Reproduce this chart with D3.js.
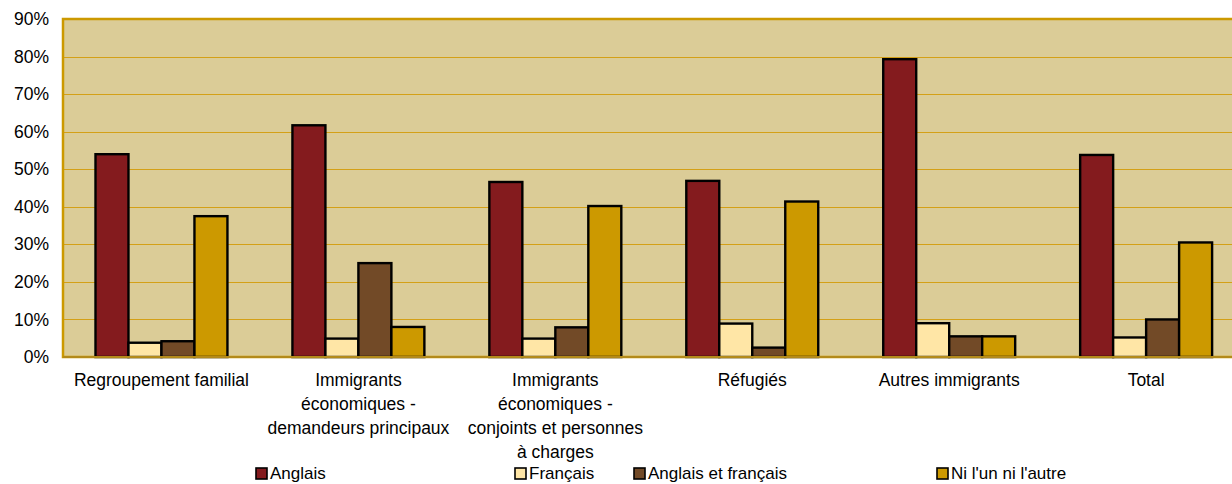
<!DOCTYPE html>
<html>
<head>
<meta charset="utf-8">
<script src="https://cdn.jsdelivr.net/npm/d3@7"></script>
<style>
  html, body { margin: 0; padding: 0; background: #fff; }
  svg { display: block; font-family: "Liberation Sans", Arial, sans-serif; }
</style>
</head>
<body>
<svg id="chart" width="1232" height="484"></svg>
<script>
// ---- data ----
const categories = ["Regroupement familial", "Immigrants économiques - demandeurs principaux", "Immigrants économiques - conjoints et personnes à charges", "Réfugiés", "Autres immigrants", "Total"];
const categoryLines = [
  ["Regroupement familial"],
  ["Immigrants", "économiques -", "demandeurs principaux"],
  ["Immigrants", "économiques -", "conjoints et personnes", "à charges"],
  ["Réfugiés"],
  ["Autres immigrants"],
  ["Total"]
];
const seriesNames = ["Anglais", "Français", "Anglais et français", "Ni l'un ni l'autre"];
const anglais   = [0.540, 0.617, 0.466, 0.469, 0.793, 0.538];
const francais  = [0.038, 0.049, 0.049, 0.089, 0.090, 0.052];
const anglaisEtFrancais = [0.042, 0.250, 0.079, 0.025, 0.055, 0.100];
const niLunNiLautre = [0.375, 0.080, 0.402, 0.414, 0.055, 0.305];
const yTicks = [0, 0.1, 0.2, 0.3, 0.4, 0.5, 0.6, 0.7, 0.8, 0.9];

const seriesValues = [anglais, francais, anglaisEtFrancais, niLunNiLautre];
const colors = ["#841B1E", "#FFE6A6", "#724A27", "#CC9900"];

// ---- layout ----
const svg = d3.select("#chart");
const plot = { left: 63, top: 19, bottom: 357, right: 1244.6 };

const x = d3.scaleBand().domain(categories).range([plot.left, plot.right])
  .paddingInner(0.33).paddingOuter(0.165);
const xs = d3.scaleBand().domain(seriesNames).range([0, x.bandwidth()]);
const y = d3.scaleLinear().domain([0, 0.9]).range([plot.bottom, plot.top]);

// plot background
svg.append("rect")
  .attr("x", plot.left).attr("y", plot.top)
  .attr("width", plot.right - plot.left).attr("height", plot.bottom - plot.top)
  .attr("fill", "#DBCC97");

// gridlines
svg.append("g")
  .selectAll("line").data(yTicks.slice(1, -1)).join("line")
  .attr("x1", plot.left).attr("x2", plot.right)
  .attr("y1", d => Math.round(y(d)) + 0.5).attr("y2", d => Math.round(y(d)) + 0.5)
  .attr("stroke", "#D4A017").attr("stroke-width", 1.2);

// plot border (top, left, bottom)
svg.append("path")
  .attr("d", `M${plot.right + 5},${plot.top} H${plot.left} V${plot.bottom} H${plot.right + 5}`)
  .attr("fill", "none").attr("stroke", "#CC9900").attr("stroke-width", 2.5);

// bars
const rows = categories.map((c, i) => seriesNames.map((s, j) => ({ c, s, v: seriesValues[j][i], j })));
svg.append("g")
  .selectAll("g").data(rows).join("g")
  .attr("transform", (d, i) => `translate(${x(categories[i])},0)`)
  .selectAll("rect").data(d => d).join("rect")
  .attr("x", d => xs(d.s))
  .attr("y", d => y(d.v))
  .attr("width", xs.bandwidth())
  .attr("height", d => y(0) - y(d.v))
  .attr("fill", d => colors[d.j])
  .attr("stroke", "#000")
  .attr("stroke-width", 2.4);

// bottom axis line over bar bottoms
svg.append("line")
  .attr("x1", plot.left).attr("x2", plot.right + 5)
  .attr("y1", plot.bottom).attr("y2", plot.bottom)
  .attr("stroke", "#B38A1A").attr("stroke-width", 2.2);

// y axis labels
const yAxis = d3.axisLeft(y).tickValues(yTicks).tickFormat(d3.format(".0%")).tickSize(0).tickPadding(14);
const yg = svg.append("g").attr("transform", `translate(${plot.left},0)`).call(yAxis);
yg.select(".domain").remove();
yg.selectAll("text").attr("font-size", 17.5).attr("fill", "#000")
  .attr("font-family", "'Liberation Sans', Arial, sans-serif");

// x axis labels (multi-line)
const xg = svg.append("g");
categories.forEach((c, i) => {
  const t = xg.append("text")
    .attr("x", x(c) + x.bandwidth() / 2)
    .attr("y", 386)
    .attr("text-anchor", "middle")
    .attr("font-size", 17.5).attr("fill", "#000");
  categoryLines[i].forEach((line, k) => {
    t.append("tspan").attr("x", x(c) + x.bandwidth() / 2).attr("y", 386 + k * 24).text(line);
  });
});

// legend
const legendX = [256, 515, 634, 937];
const lg = svg.append("g");
seriesNames.forEach((s, j) => {
  lg.append("rect")
    .attr("x", legendX[j]).attr("y", 468)
    .attr("width", 11).attr("height", 11)
    .attr("fill", colors[j]).attr("stroke", "#000").attr("stroke-width", 1.6);
  lg.append("text")
    .attr("x", legendX[j] + 14).attr("y", 479)
    .attr("font-size", 17).attr("fill", "#000").text(s);
});
</script>
</body>
</html>
